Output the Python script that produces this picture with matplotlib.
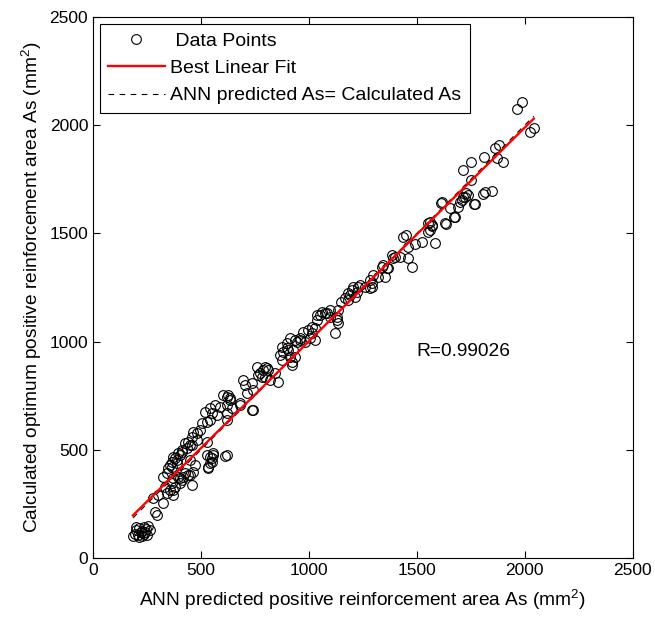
import numpy as np
import matplotlib
matplotlib.use('Agg')
import matplotlib.pyplot as plt

plt.rcParams['font.family'] = ['Liberation Sans', 'DejaVu Sans']
plt.rcParams['mathtext.default'] = 'regular'

# ANN predicted As (mm2) vs calculated optimum As (mm2)
ann_as = [
    185, 195, 200, 208, 215, 220, 228, 235, 240, 245, 250, 255, 262, 198, 225, 212, 238,
    279, 287, 296, 302, 326, 341, 357, 333, 380, 403, 457, 449, 418, 403, 326, 341, 349,
    364, 357, 395, 411, 434, 449, 441, 457, 480, 464, 495, 503, 526, 542, 549, 519, 573,
    542, 565, 588, 603, 619, 634, 681, 735, 542, 549, 557, 534, 611, 480, 426, 372, 388,
    457, 526, 411, 403, 380, 388, 364, 449, 472, 465, 441, 426, 395, 411, 372, 364, 372,
    372, 526, 549, 542, 534, 557,
    866, 874, 796, 812, 758, 765, 781, 843, 858, 696, 704, 712, 681, 742, 626, 634, 619,
    642, 619, 619, 619,
    789, 804, 773, 796, 820, 735, 742, 881, 897, 874, 920, 927, 943, 958, 982, 1005,
    1028, 1013, 1036, 1059, 1082, 1097, 1128, 1136, 1121, 1013, 1028, 1151, 1167, 1190,
    1221, 1205, 1228, 1283, 1290,
    1136, 1097, 1074, 1051, 1036, 1128, 997, 974, 958, 935, 912, 897, 904, 912, 935, 920,
    1383, 1390, 1421, 1460, 1476, 1344, 1360, 1352, 1321, 1298, 1283, 1290, 1259, 1236,
    1198, 1182, 1182, 1213, 1460,
    1337, 1367, 1398, 1437, 1491, 1522, 1583, 1552, 1560, 1568, 1552, 1614, 1653, 1676,
    1630, 1691, 1699, 1714, 1738, 1769, 1807,
    1722, 1707, 1765, 1617, 1673, 1633, 1560, 1568, 1452,
    1985, 1966, 2042, 2023, 1880, 1861, 1810, 1869, 1897, 1749, 1714, 1753, 1730, 1815, 1846,
]
calc_as = [
    100, 112, 128, 105, 138, 118, 100, 145, 122, 132, 108, 150, 128, 142, 125, 95, 110,
    276, 214, 199, 291, 253, 299, 314, 329, 329, 345, 337, 383, 376, 368, 376, 391, 414,
    445, 430, 484, 499, 507, 522, 537, 560, 576, 583, 591, 622, 630, 638, 668, 676, 661,
    692, 707, 699, 753, 745, 738, 707, 684, 468, 445, 484, 422, 471, 545, 530, 468, 453,
    522, 537, 491, 476, 461, 438, 422, 453, 430, 399, 383, 391, 376, 360, 368, 345, 314,
    291, 476, 461, 438, 414, 476,
    938, 915, 884, 869, 884, 845, 838, 853, 815, 822, 799, 761, 715, 684, 753, 730, 707,
    692, 668, 638, 476,
    869, 876, 853, 838, 822, 807, 776, 953, 969, 976, 907, 961, 999, 1007, 999, 1015,
    1007, 1038, 1123, 1138, 1130, 1115, 1115, 1084, 1038, 1069, 1061, 1184, 1200, 1215,
    1230, 1253, 1253, 1246, 1269,
    1146, 1146, 1130, 1123, 1100, 1100, 1053, 1046, 1015, 1007, 1015, 992, 961, 930, 930, 892,
    1400, 1385, 1392, 1385, 1346, 1354, 1339, 1300, 1300, 1307, 1284, 1253, 1253, 1261,
    1238, 1223, 1192, 1207, 1438,
    1346, 1339, 1392, 1484, 1451, 1461, 1454, 1546, 1515, 1538, 1508, 1639, 1616, 1577,
    1546, 1623, 1646, 1669, 1677, 1635, 1682,
    1669, 1654, 1635, 1646, 1574, 1543, 1554, 1534, 1492,
    2108, 2074, 1988, 1969, 1908, 1896, 1854, 1847, 1828, 1828, 1793, 1746, 1686, 1691, 1695,
]
r_value = 0.99026

x = np.array(ann_as, dtype=float)
y = np.array(calc_as, dtype=float)
slope, intercept = np.polyfit(x, y, 1)
xl = np.array([x.min(), x.max()])

fig = plt.figure(figsize=(6.55, 6.17), dpi=100)
ax = fig.add_axes([0.142, 0.0956, 0.824, 0.877])

ax.plot(x, y, 'o', mfc='none', mec='black', ms=7, mew=0.8, label=' Data Points', zorder=2)
ax.plot(xl, slope * xl + intercept, '-', color='red', lw=1.7, label='Best Linear Fit', zorder=4)
ax.plot(xl, xl, '--', color='black', lw=0.8, dashes=(5, 5),
        label='ANN predicted As= Calculated As', zorder=3)

ax.set_xlim(0, 2500)
ax.set_ylim(0, 2500)
ax.set_xticks(np.arange(0, 2501, 500))
ax.set_yticks(np.arange(0, 2501, 500))
ax.tick_params(direction='in', top=True, right=True, length=5, labelsize=12.5)
for s in ax.spines.values():
    s.set_linewidth(0.8)

ax.set_xlabel('ANN predicted positive reinforcement area As (mm$^{2}$)', fontsize=13.8, labelpad=7)
ax.set_ylabel('Calculated optimum positive reinforcement area As (mm$^{2}$)', fontsize=13.8, labelpad=4)

ax.text(1500, 952, 'R=%.5f' % r_value, fontsize=13.8, va='center', ha='left')

leg = ax.legend(loc='upper left', fontsize=14,
                handlelength=2.9, fancybox=False, framealpha=1, edgecolor='black',
                labelspacing=0.5, borderpad=0.42, handletextpad=0.3, borderaxespad=0.36)
leg.get_frame().set_linewidth(0.8)

fig.savefig('out.png', dpi=100)
